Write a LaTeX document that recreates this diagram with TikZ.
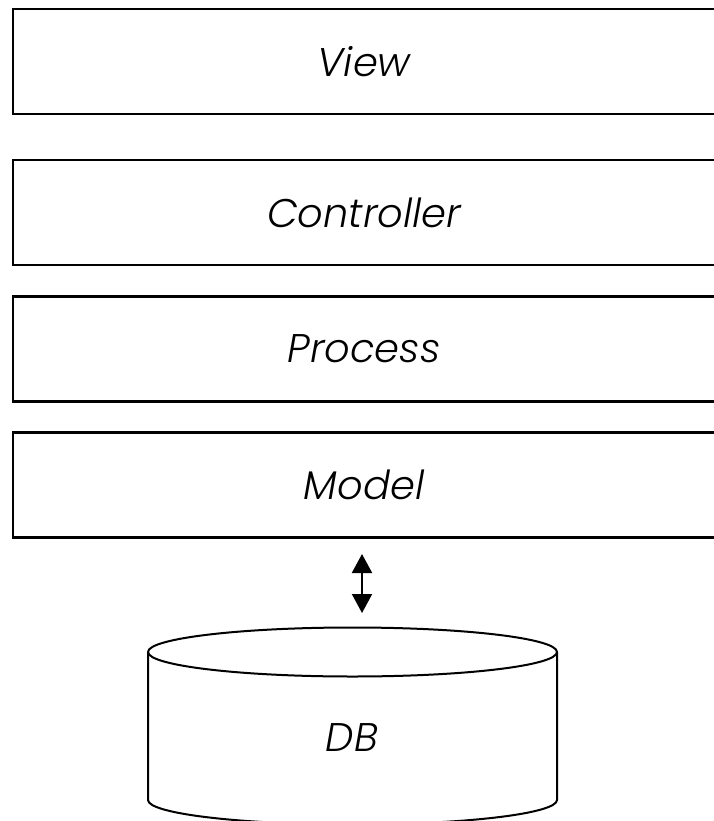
\documentclass[tikz,border=0pt]{standalone}
\usepackage{fontspec}
\setmainfont{Poppins}[UprightFont=* Light, ItalicFont=* Light Italic]
\usetikzlibrary{arrows.meta}
\begin{document}
\begin{tikzpicture}[x=1pt,y=-1pt,
  lbl/.style={font=\fontsize{40}{44}\selectfont\itshape},
  layer/.style={draw,line width=2.5pt,minimum width=702pt,minimum height=105pt,inner sep=0pt,lbl},
  cyl/.style={line width=2pt},
  dbl/.style={arrows={Triangle[width=20pt,length=19pt]-Triangle[width=20pt,length=19pt]},line width=2pt}]
\useasboundingbox (0,0) rectangle (713,821);
\node[layer] (view) at (364,61.5) {View};
\node[layer] (ctrl) at (364,212.5) {Controller};
\node[layer] (proc) at (364,349) {Process};
\node[layer] (model) at (364,485) {Model};
% cylinder
\draw[cyl] (148,652) arc[start angle=180,end angle=0,x radius=204.5,y radius=24.5]
  arc[start angle=0,end angle=-180,x radius=204.5,y radius=24.5];
\draw[cyl] (148,652) -- (148,800) arc[start angle=180,end angle=360,x radius=204.5,y radius=-24.5] -- (557,652);
\node[lbl] (db) at (352,738) {DB};
\coordinate (a1) at (362,554);
\coordinate (a2) at (362,613);
\draw[dbl] (a1) -- (a2);
\end{tikzpicture}
\end{document}
